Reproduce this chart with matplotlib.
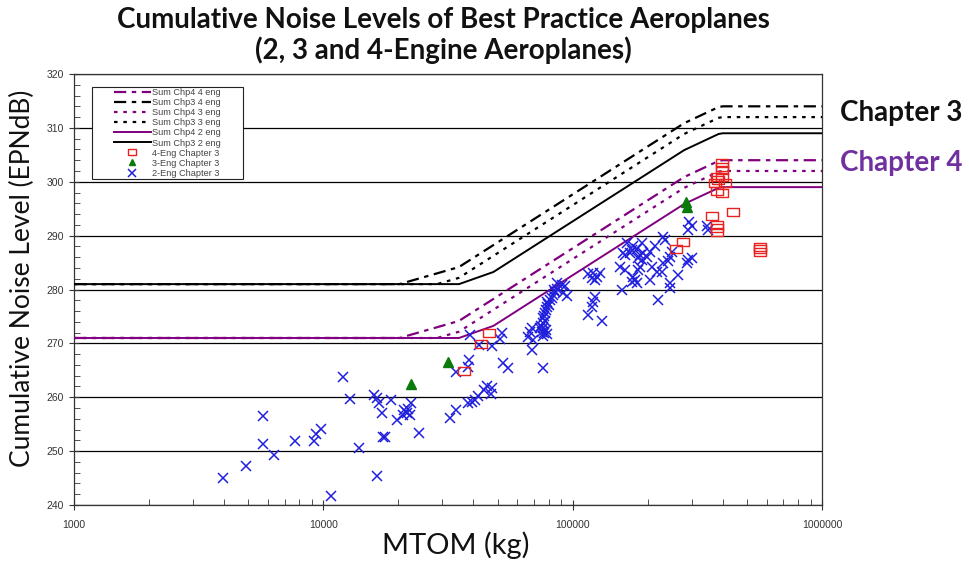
import matplotlib
matplotlib.use("Agg")
import matplotlib.pyplot as plt
from matplotlib.patches import Rectangle
from matplotlib.ticker import FixedLocator, FuncFormatter, NullFormatter, MultipleLocator

# ---- limit lines: cumulative levels at the breakpoint masses ----
mass_breaks = [1000, 20200, 28600, 35000, 48100, 280000, 385000, 400000, 1000000]
chp3_4eng = [281, 281, 283.0, 284.17, 288.25, 310.87, 313.87, 314, 314]
chp3_3eng = [281, 281, 281.0, 282.17, 286.25, 308.87, 311.87, 312, 312]
chp3_2eng = [281, 281, 281.0, 281.0, 283.25, 305.87, 308.87, 309, 309]
chp4_4eng = [271, 271, 273.0, 274.17, 278.25, 300.87, 303.87, 304, 304]
chp4_3eng = [271, 271, 271.0, 272.17, 276.25, 298.87, 301.87, 302, 302]
chp4_2eng = [271, 271, 271.0, 271.0, 273.25, 295.87, 298.87, 299, 299]

# ---- certificated aeroplanes ----
eng4_mass = [36600, 42900, 46200, 259900, 276500, 361400, 441300, 378400, 378400,
             378400, 564700, 564700, 564700, 396400, 396400, 396400, 378400, 396400,
             384100, 408700, 372500, 378400, 396400]
eng4_level = [264.9, 269.8, 271.9, 287.5, 288.9, 293.6, 294.4, 292.0, 291.4,
              290.7, 287.9, 287.5, 287.0, 303.5, 302.8, 302.1, 300.9, 300.9,
              300.3, 299.7, 299.7, 298.2, 297.9]

eng3_mass = [22400, 31550, 285000, 288000]
eng3_level = [262.5, 266.6, 296.2, 295.4]

eng2_mass = [3950, 4880, 5710, 5710, 6340, 7700, 9200, 9350, 9790, 10700,
             11960, 12800, 13870, 16470, 17400, 17700, 16000, 16400, 16700, 18600,
             17200, 19700, 21100, 21900, 22400, 22300, 21600, 20900, 24100, 32200,
             34100, 38200, 39600, 40600, 41600, 44200, 45200, 47400, 47100, 34000,
             38400, 38200, 38800, 42100, 47600, 51900, 51100, 52700, 54900, 68500,
             66400, 69600, 67500, 68500, 75900,
             86300, 90400, 93200, 91800, 94700, 85000, 83700, 81200, 79900, 78700,
             78200, 77500, 76300, 75900, 76300, 75200, 74000, 82700, 80400, 78900,
             76800, 77500, 74700, 84200, 86600, 76800, 78200, 78900, 76100,
             115600, 121100, 125000, 119300, 123000, 157300, 123000, 121100, 119300, 115600,
             130900, 159700, 293800, 300400, 291100, 345100, 350200, 231100, 234800, 175200,
             180800, 162300, 170000, 186400, 183400, 189300, 172600, 214100, 204400, 192100,
             249700, 245800, 242000, 231100, 227700, 186400, 183400, 154900, 162300, 175200,
             178000, 180800, 172600, 204400, 217500, 265500, 245800, 245800, 291100, 300400,
             286900, 220800, 128800, 189300, 198200, 207600, 164800]
eng2_level = [245.0, 247.2, 256.5, 251.3, 249.3, 251.9, 251.9, 253.2, 254.1, 241.7,
              263.8, 259.7, 250.6, 245.4, 252.7, 252.6, 260.4, 259.8, 258.9, 259.5,
              257.1, 255.8, 257.6, 257.8, 258.9, 256.7, 257.0, 256.7, 253.4, 256.1,
              257.6, 258.9, 259.2, 259.5, 260.2, 261.3, 262.1, 261.8, 260.6, 264.7,
              266.9, 265.7, 271.6, 269.7, 269.6, 272.0, 270.9, 266.3, 265.4, 272.8,
              271.2, 270.6, 272.2, 268.8, 265.4,
              281.2, 280.8, 280.6, 279.3, 278.8, 279.6, 279.0, 278.0, 277.4, 276.8,
              276.2, 275.6, 274.7, 273.7, 272.8, 272.2, 272.8, 278.4, 277.1, 277.7,
              275.1, 274.2, 273.2, 279.9, 280.1, 271.9, 272.5, 271.7, 271.4,
              282.9, 283.1, 282.4, 282.1, 281.8, 280.0, 278.7, 277.7, 276.8, 275.3,
              274.2, 286.7, 292.6, 291.7, 291.0, 291.7, 291.0, 289.8, 289.2, 288.0,
              287.6, 286.4, 286.7, 286.4, 285.8, 285.5, 287.3, 288.0, 287.0, 286.7,
              287.0, 286.1, 285.2, 284.9, 283.3, 284.2, 283.6, 284.2, 283.6, 282.4,
              281.8, 281.2, 281.4, 281.8, 283.3, 282.7, 281.2, 280.2, 285.5, 285.8,
              284.9, 278.0, 283.1, 288.6, 286.1, 284.2, 288.6]

x_ticks = [1000, 10000, 100000, 1000000]
y_ticks = [240, 250, 260, 270, 280, 290, 300, 310, 320]

PURPLE = "#800080"
BLUE = "#1f1fdd"
RED = "#e8231f"
GREEN = "#0a7a0a"

W, H = 970, 561
fig = plt.figure(figsize=(W / 100, H / 100), dpi=100)
ax = fig.add_axes([74 / W, 1 - 505 / H, (822 - 74) / W, (505 - 74) / H])

ax.set_xscale("log")
ax.set_xlim(1000, 1000000)
ax.set_ylim(240, 320)

# horizontal grid every 10 dB
for yv in y_ticks:
    ax.axhline(yv, color="black", lw=0.9, zorder=1)

dash4 = (0, (5.5, 2.5, 2, 2.5))
dash3 = (0, (1.6, 2.6))
ax.plot(mass_breaks, chp4_4eng, color=PURPLE, lw=1.6, ls=dash4, label="Sum Chp4 4 eng", zorder=3)
ax.plot(mass_breaks, chp3_4eng, color="black", lw=1.6, ls=dash4, label="Sum Chp3 4 eng", zorder=3)
ax.plot(mass_breaks, chp4_3eng, color=PURPLE, lw=1.6, ls=dash3, label="Sum Chp4 3 eng", zorder=3)
ax.plot(mass_breaks, chp3_3eng, color="black", lw=1.6, ls=dash3, label="Sum Chp3 3 eng", zorder=3)
ax.plot(mass_breaks, chp4_2eng, color=PURPLE, lw=1.4, ls="-", label="Sum Chp4 2 eng", zorder=3)
ax.plot(mass_breaks, chp3_2eng, color="black", lw=1.4, ls="-", label="Sum Chp3 2 eng", zorder=3)

rect = [(-1.3, -1), (1.3, -1), (1.3, 1), (-1.3, 1), (-1.3, -1)]
ax.plot(eng4_mass, eng4_level, ls="none", marker=rect, ms=8, mfc="none", mec=RED,
        mew=1.0, label="4-Eng Chapter 3", zorder=5)
ax.plot(eng3_mass, eng3_level, ls="none", marker="^", ms=7, color=GREEN,
        label="3-Eng Chapter 3", zorder=5)
ax.plot(eng2_mass, eng2_level, ls="none", marker="x", ms=7.5, mew=1.1, color=BLUE,
        label="2-Eng Chapter 3", zorder=4)

# axes styling
for side in ["top", "right", "left", "bottom"]:
    ax.spines[side].set_color("#333333")
    ax.spines[side].set_linewidth(0.9)

ax.xaxis.set_major_locator(FixedLocator(x_ticks))
ax.xaxis.set_major_formatter(FuncFormatter(lambda v, p: "%d" % v))
ax.xaxis.set_minor_formatter(NullFormatter())
ax.yaxis.set_major_locator(FixedLocator(y_ticks))
ax.yaxis.set_minor_locator(MultipleLocator(2))
ax.tick_params(axis="both", which="major", direction="inout", length=7, width=0.8,
               labelsize=7.5, labelcolor="#333333", colors="#333333")
ax.tick_params(axis="both", which="minor", direction="in", length=4, width=0.6, colors="#333333")
ax.tick_params(axis="x", which="major", pad=7)
for lab in ax.get_xticklabels() + ax.get_yticklabels():
    lab.set_family("Liberation Sans")
    lab.set_color("#333333")

# legend box (white, square corners) sitting under the legend entries
box = Rectangle((92 / W, 1 - 179 / H), (243 - 92) / W, (179 - 87) / H,
                transform=fig.transFigure, facecolor="white", edgecolor="#222222",
                lw=0.8, zorder=5.5, clip_on=False)
ax.add_patch(box)
leg = ax.legend(loc="upper left", bbox_to_anchor=(114 / W, 1 - 88 / H),
                bbox_transform=fig.transFigure, prop={"family": "Liberation Sans", "size": 6.6},
                handlelength=4.0, handletextpad=0.15, labelspacing=0.12, borderpad=0.0,
                borderaxespad=0, frameon=False, markerscale=0.7)
leg.set_zorder(6)
for t in leg.get_texts():
    t.set_color("#444444")

# titles and labels
fig.text(443 / W, 1 - 20 / H, "Cumulative Noise Levels of Best Practice Aeroplanes",
         ha="center", va="center", family="Lato", weight="bold", fontsize=20, color="#111111")
fig.text(443 / W, 1 - 50 / H, "(2, 3 and 4-Engine Aeroplanes)",
         ha="center", va="center", family="Lato", weight="bold", fontsize=20, color="#111111")
fig.text(22 / W, 1 - 278 / H, "Cumulative Noise Level (EPNdB)", rotation=90,
         ha="center", va="center", family="Lato", fontsize=19, color="#111111")
fig.text(456 / W, 1 - 545 / H, "MTOM (kg)", ha="center", va="center",
         family="Lato", fontsize=21, color="#111111")
fig.text(840 / W, 1 - 113 / H, "Chapter 3", ha="left", va="center",
         family="Lato", weight="bold", fontsize=20, color="#111111")
fig.text(840 / W, 1 - 163 / H, "Chapter 4", ha="left", va="center",
         family="Lato", weight="bold", fontsize=20, color="#7030A0")

fig.savefig("out.png", dpi=100)
